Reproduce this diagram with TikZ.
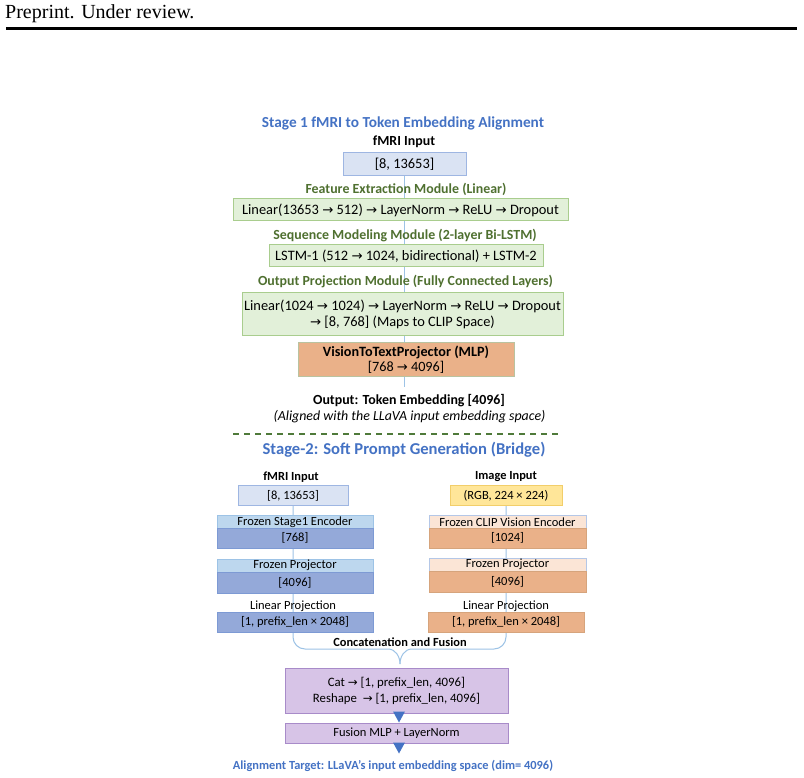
\documentclass[tikz,border=0pt]{standalone}
\usepackage{fontspec}
\setmainfont{Carlito}
\newfontfamily\seriffont{Liberation Serif}
\newfontfamily\djv{DejaVu Sans}
\usetikzlibrary{calc}
\pgfdeclarelayer{background}
\pgfdeclarelayer{canvas}
\pgfsetlayers{canvas,background,main}
\newcommand\rarr{{\djv\scalebox{0.92}{→}}}
\definecolor{tblue}{HTML}{4472C4}
\definecolor{tgreen}{HTML}{4F7030}
\definecolor{gfill}{HTML}{E2F0D9}
\definecolor{gdraw}{HTML}{A9CD8E}
\definecolor{bfill}{HTML}{DAE3F3}
\definecolor{bdraw}{HTML}{9EB6E2}
\definecolor{lineblue}{HTML}{9DC3E6}
\definecolor{ofill}{HTML}{EAB189}
\definecolor{odraw}{HTML}{B9C3A0}
\definecolor{o2draw}{HTML}{D6A47C}
\definecolor{hblue}{HTML}{BDD7EE}
\definecolor{hbluedraw}{HTML}{9DC3E6}
\definecolor{dblue}{HTML}{94A9D9}
\definecolor{dbluedraw}{HTML}{7D9AD4}
\definecolor{hor}{HTML}{FBE5D6}
\definecolor{hordraw}{HTML}{B4C7E7}
\definecolor{yfill}{HTML}{FFE699}
\definecolor{ydraw}{HTML}{F2CE6A}
\definecolor{pfill}{HTML}{D7C4E7}
\definecolor{pdraw}{HTML}{A88BC9}
\definecolor{dashgreen}{HTML}{4F7A3A}
\tikzset{
  box/.style={draw, line width=1pt, inner sep=0pt, align=center, anchor=center},
  gbox/.style={box, fill=gfill, draw=gdraw, font=\fontsize{14.4}{16.5}\selectfont},
  sbox/.style={box, font=\fontsize{12.5}{14}\selectfont},
  title/.style={font=\bfseries\fontsize{15.3}{18}\selectfont, text=tblue, inner sep=0pt},
  titletwo/.style={font=\bfseries\fontsize{16.6}{19}\selectfont, text=tblue, inner sep=0pt},
  lbl/.style={font=\bfseries\fontsize{13.9}{16}\selectfont, inner sep=0pt},
  glbl/.style={lbl, text=tgreen},
  lbltwo/.style={font=\bfseries\fontsize{12.4}{14}\selectfont, inner sep=0pt},
  plaintwo/.style={font=\fontsize{12.5}{14}\selectfont, inner sep=0pt},
  ital/.style={font=\itshape\fontsize{13.9}{16}\selectfont, inner sep=0pt},
  vline/.style={draw=lineblue, line width=1pt},
  tri/.style={fill=tblue}
}
\begin{document}
\begin{tikzpicture}[x=1pt,y=-1pt]
\useasboundingbox (0,0) rectangle (804,778);
\begin{pgfonlayer}{canvas}
\fill[white] (0,0) rectangle (804,778);
\end{pgfonlayer}
% header
\node[anchor=base west, inner sep=0pt, font=\seriffont\fontsize{20}{24}\selectfont] (hdr) at (5,19) {Preprint. Under review.};
\coordinate (rl) at (6,28.5);
\coordinate (rr) at (797,28.5);
\draw[line width=2.8pt] (rl) -- (rr);

% Stage 1
\node[title] (t1) at (403,123) {Stage 1 fMRI to Token Embedding Alignment};
\node[lbl] (l1) at (404,142) {fMRI Input};
\node[box, fill=bfill, draw=bdraw, minimum width=123pt, minimum height=23pt, font=\fontsize{14.4}{16.5}\selectfont] (in1) at (404.5,164.5) {[8, 13653]};
\node[glbl] (fel) at (406,189) {Feature Extraction Module (Linear)};
\node[gbox, minimum width=335pt, minimum height=22pt] (fe) at (400.5,210) {Linear(13653 \rarr{} 512) \rarr{} LayerNorm \rarr{} ReLU \rarr{} Dropout};
\node[glbl] (sml) at (405,236) {Sequence Modeling Module (2-layer Bi-LSTM)};
\node[gbox, minimum width=274pt, minimum height=22pt] (sm) at (406,256) {LSTM-1 (512 \rarr{} 1024, bidirectional) + LSTM-2};
\node[glbl] (opl) at (405.5,282) {Output Projection Module (Fully Connected Layers)};
\node[gbox, minimum width=321pt, minimum height=43pt] (op) at (402.5,314.5) {Linear(1024 \rarr{} 1024) \rarr{} LayerNorm \rarr{} ReLU \rarr{} Dropout\\ \rarr{} [8, 768] (Maps to CLIP Space)};
\node[box, fill=ofill, draw=odraw, minimum width=216pt, minimum height=33pt, font=\fontsize{14.2}{15}\selectfont] (vt) at (406,359.5) {\textbf{VisionToTextProjector (MLP)}\\{[768 \rarr{} 4096]}};
\node[lbl] (outl) at (409,401) {Output: Token Embedding [4096]};
\node[ital] (outi) at (409.5,417) {(Aligned with the LLaVA input embedding space)};
\coordinate (e1) at (404.5,387);

% separator
\coordinate (dl) at (233,434);
\coordinate (dr) at (562,434);
\draw[dashgreen, line width=1.3pt, dash pattern=on 5.5pt off 5.5pt] (dl) -- (dr);

% Stage 2
\node[titletwo] (t2) at (404,450) {Stage-2: Soft Prompt Generation (Bridge)};
\node[lbltwo] (fl) at (291,477) {fMRI Input};
\node[sbox, fill=bfill, draw=bdraw, minimum width=110pt, minimum height=20pt] (in2) at (293,495.5) {[8, 13653]};
\node[lbltwo] (il) at (506,477) {Image Input};
\node[sbox, fill=yfill, draw=ydraw, minimum width=112pt, minimum height=20pt] (img) at (506,495.5) {(RGB, 224 × 224)};

% left column
\node[sbox, fill=hblue, draw=hbluedraw, minimum width=156pt, minimum height=12.5pt] (lh1) at (295,522) {Frozen Stage1 Encoder};
\node[sbox, fill=dblue, draw=dbluedraw, minimum width=156pt, minimum height=20pt] (lb1) at (295,538) {[768]};
\node[sbox, fill=hblue, draw=hbluedraw, minimum width=156pt, minimum height=13pt] (lh2) at (295,565.5) {Frozen Projector};
\node[sbox, fill=dblue, draw=dbluedraw, minimum width=156pt, minimum height=21pt] (lb2) at (295,582.5) {[4096]};
\node[plaintwo] (ll) at (293,606) {Linear Projection};
\node[sbox, fill=dblue, draw=dbluedraw, minimum width=156pt, minimum height=20pt] (lb3) at (295,622) {[1, prefix\_len × 2048]};

% right column
\node[sbox, fill=hor, draw=hordraw, minimum width=157pt, minimum height=12.5pt] (rh1) at (507.5,522) {Frozen CLIP Vision Encoder};
\node[sbox, fill=ofill, draw=o2draw, minimum width=157pt, minimum height=20pt] (rb1) at (507.5,538) {[1024]};
\node[sbox, fill=hor, draw=hordraw, minimum width=157pt, minimum height=13pt] (rh2) at (507.5,564.5) {Frozen Projector};
\node[sbox, fill=ofill, draw=o2draw, minimum width=157pt, minimum height=21pt] (rb2) at (507.5,581.5) {[4096]};
\node[plaintwo] (rl2) at (506,606) {Linear Projection};
\node[sbox, fill=ofill, draw=o2draw, minimum width=156pt, minimum height=20pt] (rb3) at (506,622) {[1, prefix\_len × 2048]};

% fusion
\coordinate (tip) at (400,664);
\node[sbox, fill=pfill, draw=pdraw, minimum width=223pt, minimum height=45pt, font=\fontsize{12.8}{16}\selectfont] (cat) at (396.5,690.5) {Cat \rarr{} [1, prefix\_len, 4096]\\Reshape \ \rarr{} [1, prefix\_len, 4096]};
\node[sbox, fill=pfill, draw=pdraw, minimum width=223pt, minimum height=20pt] (fus) at (396.5,733) {Fusion MLP + LayerNorm};
\node[lbltwo, text=tblue] (al) at (393,766) {Alignment Target: LLaVA’s input embedding space (dim= 4096)};

\begin{pgfonlayer}{background}
  \draw[vline] (in1.south) -- (e1);
  \draw[vline] (in2.south) -- (293,637) to[out=-90,in=180] (305,649) -- (388,649) to[out=0,in=90] (tip);
  \draw[vline] (img.south) -- (506,637) to[out=-90,in=0] (494,649) -- (412,649) to[out=180,in=90] (tip);
\end{pgfonlayer}
\node[lbltwo, fill=white, inner xsep=1pt, inner ysep=2pt] (cf) at (400,642) {Concatenation and Fusion};

% triangles
\fill[tri] ($(cat.south)+(-3.5,-2)$) -- ($(cat.south)+(8.5,-2)$) -- ($(cat.south)+(2.5,9)$) -- cycle;
\fill[tri] ($(fus.south)+(-3.5,-1)$) -- ($(fus.south)+(8.5,-1)$) -- ($(fus.south)+(2.5,10)$) -- cycle;
\end{tikzpicture}
\end{document}
